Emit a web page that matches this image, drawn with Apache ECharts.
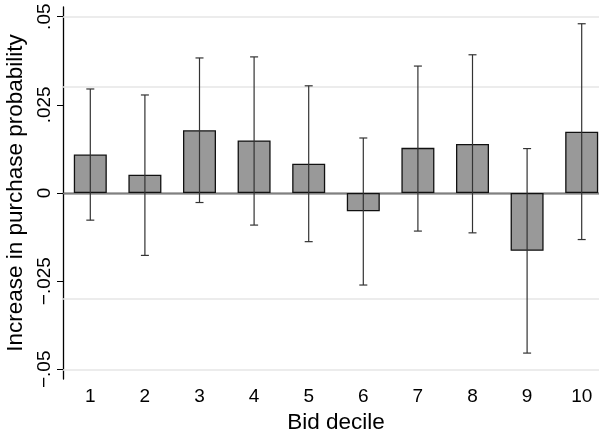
<!DOCTYPE html>
<html>
<head>
<meta charset="utf-8">
<script src="https://cdn.jsdelivr.net/npm/echarts@6/dist/echarts.min.js"></script>
<style>
	html, body { margin: 0; padding: 0; background: #fff; }
	#chart { width: 599px; height: 431px; }
</style>
</head>
<body>
<div id="chart"></div>
<script>
var deciles = ['1', '2', '3', '4', '5', '6', '7', '8', '9', '10'];
var estimates = [0.0109, 0.0052, 0.0178, 0.0149, 0.0083, -0.0052, 0.0128, 0.0139, -0.0164, 0.0174];
var ciLow = [-0.0077, -0.0177, -0.0027, -0.0091, -0.0138, -0.0261, -0.0108, -0.0113, -0.0454, -0.0132];
var ciHigh = [0.0295, 0.0278, 0.0383, 0.0386, 0.0304, 0.0156, 0.0360, 0.0392, 0.0126, 0.0480];
var yTicks = [-0.05, -0.025, 0, 0.025, 0.05];
var yTickLabels = ['−.05', '−.025', '0', '.025', '.05'];

var font = '"Liberation Sans", Arial, Helvetica, sans-serif';

var errData = deciles.map(function (d, i) {
	return [i, ciLow[i], ciHigh[i]];
});

var gridLines = yTicks.filter(function (v) { return v !== 0; }).map(function (v) {
	return { yAxis: v, lineStyle: { color: '#e6e6e6', width: 1.5, type: 'solid' } };
});
gridLines.push({ yAxis: 0, lineStyle: { color: '#808080', width: 1.3, type: 'solid' } });

var myChart = echarts.init(document.getElementById('chart'));

var option = {
	animation: false,
	textStyle: { fontFamily: font },
	grid: {
		left: 63,
		top: 7,
		bottom: 52,
		width: 546,
		containLabel: false,
		outerBoundsMode: 'none'
	},
	xAxis: {
		type: 'category',
		data: deciles,
		name: 'Bid decile',
		nameLocation: 'middle',
		nameGap: 25,
		nameTextStyle: { fontSize: 22.5, color: '#000', fontFamily: font },
		axisLine: { lineStyle: { color: '#000', width: 1.3 } },
		axisTick: { alignWithLabel: true, length: 6, lineStyle: { color: '#000', width: 1 } },
		axisLabel: { fontSize: 19, color: '#000', margin: 8, fontFamily: font },
		splitLine: { show: false }
	},
	yAxis: {
		type: 'value',
		min: -0.05275,
		max: 0.05275,
		name: 'Increase in purchase probability',
		nameLocation: 'middle',
		nameGap: 31,
		nameTextStyle: { fontSize: 22.5, color: '#000', fontFamily: font },
		axisLine: { show: true, lineStyle: { color: '#000', width: 1.3 } },
		axisTick: { show: true, length: 6, customValues: yTicks, lineStyle: { color: '#000', width: 1 } },
		axisLabel: {
			rotate: 90,
			fontSize: 19,
			color: '#000',
			margin: 9,
			fontFamily: font,
			customValues: yTicks,
			formatter: function (v) {
				for (var i = 0; i < yTicks.length; i++) {
					if (Math.abs(yTicks[i] - v) < 1e-9) return yTickLabels[i];
				}
				return '';
			}
		},
		splitLine: { show: false }
	},
	series: [{
		type: 'bar',
		data: estimates,
		barWidth: 33,
		itemStyle: { color: '#999999', borderColor: '#111', borderWidth: 1.3 },
		markLine: {
			silent: true,
			symbol: 'none',
			label: { show: false },
			z: 1,
			data: gridLines
		},
		z: 2
	}, {
		type: 'custom',
		data: errData,
		z: 5,
		renderItem: function (params, api) {
			var idx = api.value(0);
			var lo = api.coord([idx, api.value(1)]);
			var hi = api.coord([idx, api.value(2)]);
			var cap = 4;
			var style = { stroke: '#333', lineWidth: 1.2, fill: null };
			return {
				type: 'group',
				children: [
					{ type: 'line', shape: { x1: lo[0], y1: lo[1], x2: hi[0], y2: hi[1] }, style: style },
					{ type: 'line', shape: { x1: hi[0] - cap, y1: hi[1], x2: hi[0] + cap, y2: hi[1] }, style: style },
					{ type: 'line', shape: { x1: lo[0] - cap, y1: lo[1], x2: lo[0] + cap, y2: lo[1] }, style: style }
				]
			};
		}
	}]
};

myChart.setOption(option);
</script>
</body>
</html>
